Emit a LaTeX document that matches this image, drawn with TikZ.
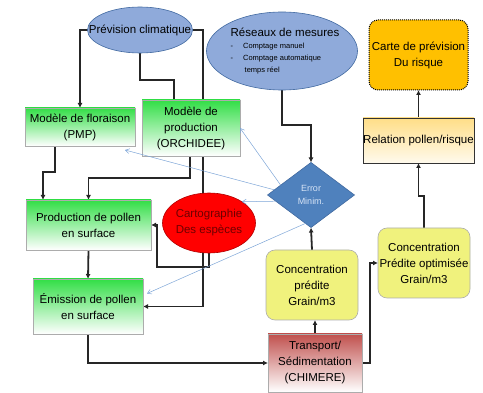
\documentclass[tikz,border=0pt]{standalone}
\usepackage{fontspec}
\setmainfont{Liberation Sans}
\usetikzlibrary{shapes.geometric,arrows.meta,backgrounds}

\definecolor{vert}{RGB}{50,222,70}
\definecolor{bleuell}{RGB}{143,170,218}
\definecolor{bordbleu}{RGB}{65,105,160}
\definecolor{bleuerr}{RGB}{79,129,189}
\definecolor{bleutexte}{RGB}{215,228,246}
\definecolor{jaune}{RGB}{240,242,125}
\definecolor{rougetr}{RGB}{192,80,77}
\definecolor{ocre}{RGB}{255,222,135}
\definecolor{orange}{RGB}{255,192,0}
\definecolor{fleche}{RGB}{125,165,215}
\definecolor{brun}{RGB}{110,0,0}

\begin{document}
\begin{tikzpicture}[x=1pt,y=-1pt,font=\fontsize{11.5}{16}\selectfont,
    every node/.style={inner sep=0pt,outer sep=0pt,align=center},
    box/.style={draw=gray!65,line width=0.6pt},
    greenbox/.style={box,top color=vert,bottom color=white},
    yellowbox/.style={box,fill=jaune,rounded corners=9pt},
    bulle/.style={ellipse,draw=bordbleu,line width=0.6pt,fill=bleuell},
    conn/.style={draw=black!85,line width=1.8pt,-{Latex[length=5pt,width=5pt]}},
    link/.style={draw=black!85,line width=1.8pt},
    fine/.style={draw=fleche,line width=0.5pt,-{Straight Barb[length=4pt,width=5pt]}}]
  \useasboundingbox (0,0) rectangle (483,393);

  % modeles
  \node[bulle,minimum width=105,minimum height=46,
        label=center:{Prévision climatique}] (prev) at (140,30) {};
  \node[greenbox,minimum width=110,minimum height=38] (flor) at (80,127)
       {Modèle de floraison\\(PMP)};
  \node[greenbox,minimum width=98,minimum height=56] (prod) at (191,128)
       {Modèle de\\production\\(ORCHIDEE)};
  \node[greenbox,minimum width=125,minimum height=50] (pollen) at (88.5,225)
       {Production de pollen\\en surface};
  \node[greenbox,minimum width=110,minimum height=55] (emis) at (88,306.5)
       {Émission de pollen\\en surface};
  \node[ellipse,draw=red!70!black,line width=0.6pt,fill=red,
        minimum width=93,minimum height=60,
        label={[text=brun]center:{Cartographie\\Des espèces}}] (carto) at (209,223) {};

  % mesures
  \node[bulle,minimum width=151,minimum height=78,
        label={[align=left,xshift=3pt]center:{Réseaux de mesures\\[-4pt]
          {\fontsize{7.5}{10}\selectfont -\hspace{10pt}Comptage manuel}\\[-4pt]
          {\fontsize{7.5}{10}\selectfont -\hspace{10pt}Comptage automatique}\\[-4pt]
          {\fontsize{7.5}{10}\selectfont \hspace{14pt}temps réel}}}] (reseau) at (282,51) {};
  \node[diamond,draw=bordbleu,line width=0.6pt,fill=bleuerr,
        minimum width=87,minimum height=65,
        label={[text=bleutexte,font=\fontsize{9}{13}\selectfont]center:{Error\\Minim.}}] (err) at (311,195) {};
  \node[yellowbox,minimum width=92,minimum height=70] (cpred) at (312,285)
       {Concentration\\prédite\\Grain/m3};
  \node[box,top color=rougetr,bottom color=white,minimum width=94,minimum height=58]
       (trans) at (315,363) {Transport/\\Sédimentation\\(CHIMERE)};
  \node[yellowbox,minimum width=92,minimum height=70] (copt) at (424,263)
       {Concentration\\Prédite optimisée\\Grain/m3};
  \node[draw=black!80,line width=0.8pt,top color=ocre,bottom color=ocre!15,
        minimum width=111,minimum height=45] (rel) at (418.5,140.5)
       {Relation pollen/risque};
  \node[draw=black,densely dotted,line width=1pt,fill=orange,rounded corners=9pt,
        minimum width=99,minimum height=70] (carte) at (418.5,55)
       {Carte de prévision\\Du risque};

  \begin{pgfonlayer}{background}
    \draw[conn] (prev.west) -| (flor.north);
    \draw[link] (prev.east) -| ([xshift=12pt]prod.north);
    \draw[link] (prev.south) -- ++(0,27) -| ([xshift=-17pt]prod.north);
    \draw[conn] ([xshift=-25pt]flor.south) -- ++(0,26) -| ([xshift=-45.5pt]pollen.north);
    \draw[conn] ([xshift=-1pt]prod.south) -- ++(0,22) -| (pollen.north);
    \draw[conn] ([xshift=12pt]prod.south) |- (emis.east);
    \draw[conn] (carto.south) -- ++(0,14) -| ([xshift=6pt]pollen.east) -- (pollen.east);
    \draw[conn] (pollen.south) -- (emis.north);
    \draw[conn] (emis.south) |- (trans.west);
    \draw[conn] (trans.north) -- (trans.north |- cpred.south);
    \draw[conn] (cpred.north) -- (err.south);
    \draw[conn] (reseau.south) -- ++(0,35) -| (err.north);
    \draw[conn] (trans.east) -- ++(8,0) |- (copt.west);
    \draw[conn] (copt.north) -- ++(0,-32) -| (rel.south);
    \draw[conn] (rel.north) -- (carte.south);
  \end{pgfonlayer}

  % retour de l'erreur
  \draw[fine] (err.162) -- (prod.east);
  \draw[fine] (err.172) -- ([xshift=-10pt,yshift=-4pt]flor.south east);
  \draw[fine] (err.190) -- (carto.33);
  \draw[fine] (err.259) -- ([xshift=4pt,yshift=13pt]emis.east);
\end{tikzpicture}
\end{document}
